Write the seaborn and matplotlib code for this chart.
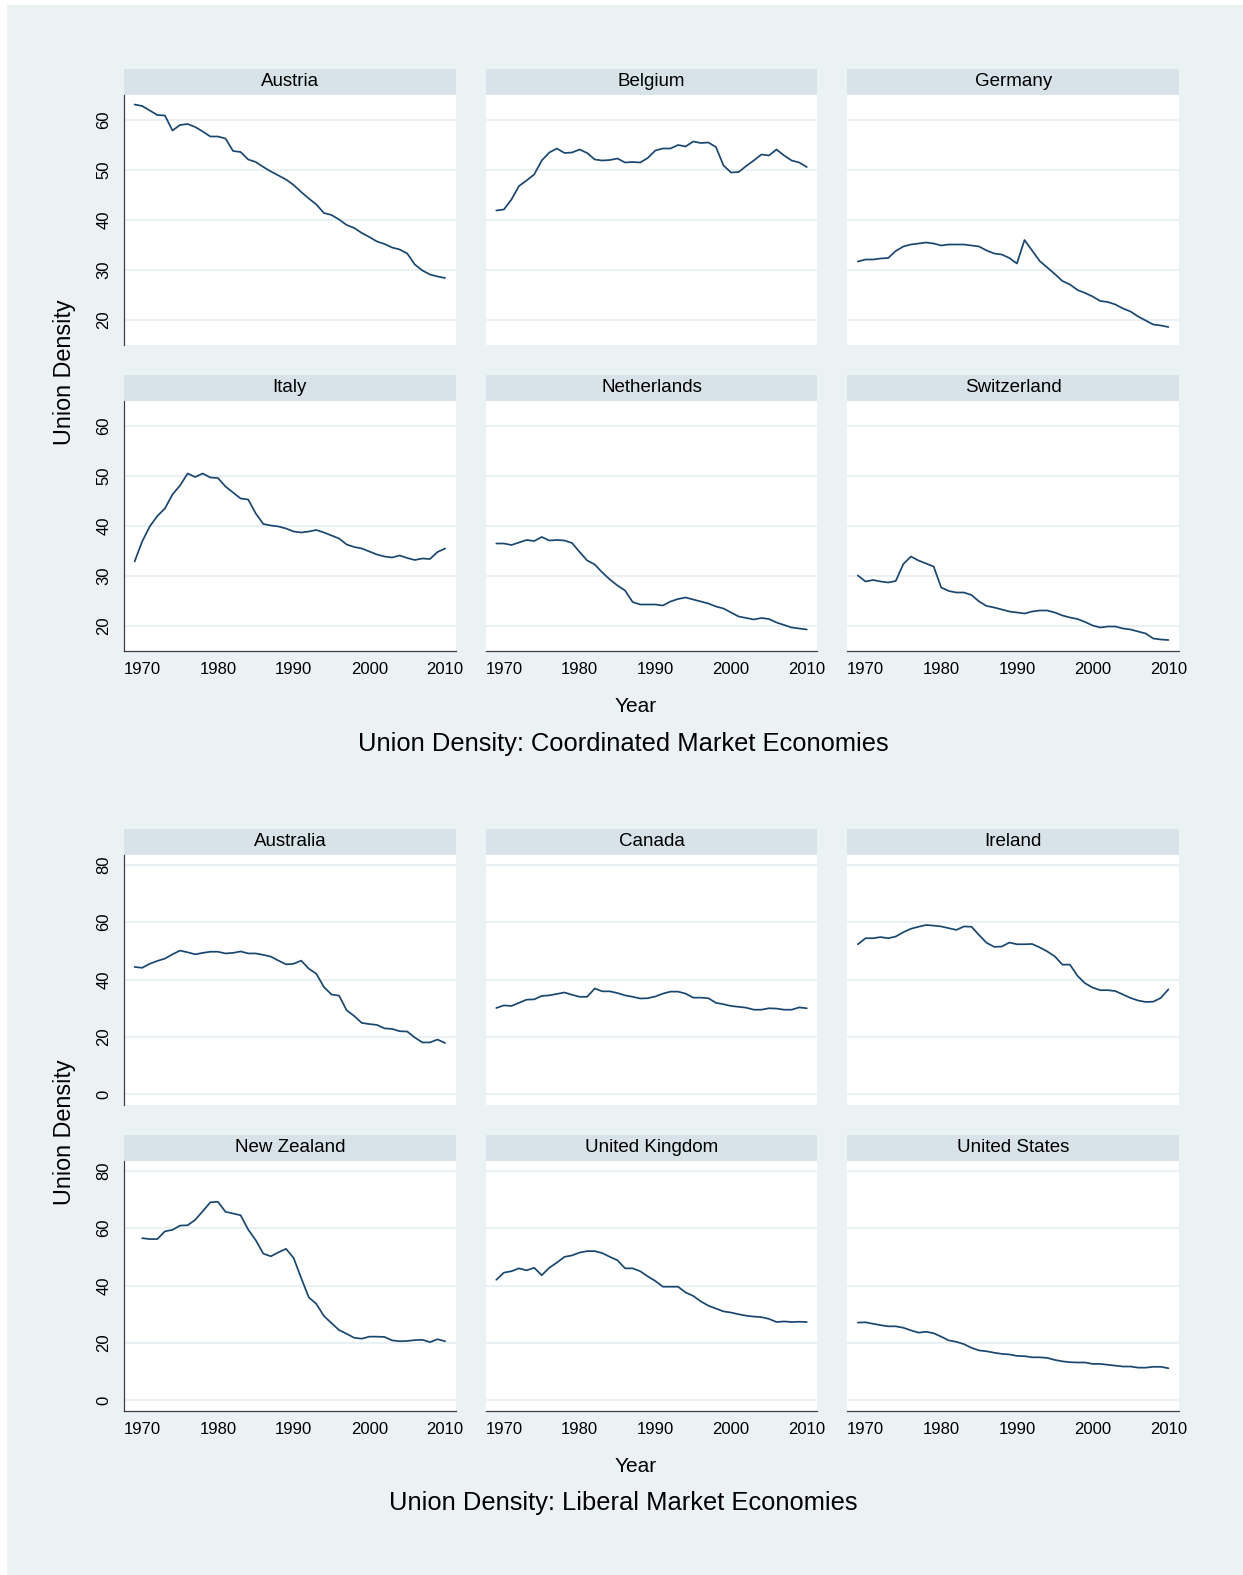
import matplotlib
matplotlib.use("Agg")
import matplotlib.pyplot as plt
import numpy as np
import pandas as pd
import seaborn as sns

# ---------------------------------------------------------------------------
# Union density (% of wage earners), 1969-2010
# ---------------------------------------------------------------------------
years = list(range(1969, 2011))
years_nz = list(range(1970, 2011))

austria = [63.1, 62.8, 61.9, 61.0, 60.9, 57.9, 59.0, 59.2, 58.6, 57.7, 56.7, 56.7, 56.3, 53.8,
           53.6, 52.1, 51.6, 50.6, 49.7, 48.9, 48.1, 47.0, 45.6, 44.3, 43.1, 41.4, 41.0, 40.1,
           39.0, 38.4, 37.4, 36.6, 35.7, 35.2, 34.5, 34.1, 33.3, 31.1, 29.9, 29.1, 28.7, 28.4]
belgium = [41.9, 42.1, 44.1, 46.8, 47.9, 49.1, 51.9, 53.5, 54.3, 53.4, 53.5, 54.1, 53.4, 52.1,
           51.9, 52.0, 52.3, 51.5, 51.6, 51.5, 52.4, 53.9, 54.3, 54.3, 55.0, 54.7, 55.7, 55.4,
           55.5, 54.6, 50.9, 49.5, 49.6, 50.8, 51.9, 53.1, 52.9, 54.1, 52.9, 51.9, 51.5, 50.6]
germany = [31.7, 32.1, 32.1, 32.3, 32.4, 33.8, 34.7, 35.1, 35.3, 35.5, 35.3, 34.9, 35.1, 35.1,
           35.1, 34.9, 34.7, 33.9, 33.3, 33.1, 32.4, 31.3, 36.0, 33.9, 31.8, 30.5, 29.2, 27.8,
           27.1, 26.0, 25.4, 24.7, 23.8, 23.6, 23.1, 22.3, 21.7, 20.7, 19.9, 19.1, 18.9, 18.6]
italy = [32.9, 36.9, 39.9, 42.0, 43.5, 46.3, 48.1, 50.5, 49.8, 50.5, 49.7, 49.6, 47.9, 46.7,
         45.5, 45.3, 42.5, 40.4, 40.1, 39.9, 39.5, 38.9, 38.7, 38.9, 39.2, 38.7, 38.1, 37.5,
         36.3, 35.8, 35.5, 34.9, 34.3, 33.9, 33.7, 34.1, 33.6, 33.2, 33.5, 33.4, 34.8, 35.5]
netherlands = [36.5, 36.5, 36.2, 36.7, 37.2, 37.0, 37.8, 37.1, 37.2, 37.1, 36.6, 34.8, 33.1, 32.3,
               30.7, 29.3, 28.1, 27.1, 24.8, 24.3, 24.3, 24.3, 24.1, 24.9, 25.4, 25.7, 25.3, 24.9,
               24.5, 23.9, 23.5, 22.7, 21.9, 21.6, 21.3, 21.6, 21.4, 20.7, 20.2, 19.7, 19.5, 19.3]
switzerland = [30.1, 28.9, 29.2, 28.9, 28.7, 29.0, 32.4, 33.9, 33.1, 32.5, 31.9, 27.7, 27.0, 26.7,
               26.7, 26.2, 24.9, 24.0, 23.7, 23.3, 22.9, 22.7, 22.5, 22.9, 23.1, 23.1, 22.7, 22.1,
               21.7, 21.4, 20.8, 20.1, 19.7, 19.9, 19.9, 19.5, 19.3, 18.9, 18.5, 17.5, 17.3, 17.2]

australia = [44.4, 44.1, 45.5, 46.5, 47.3, 48.8, 50.1, 49.5, 48.8, 49.3, 49.7, 49.7, 49.1, 49.3,
             49.8, 49.1, 49.1, 48.6, 48.0, 46.6, 45.3, 45.5, 46.6, 43.8, 42.0, 37.4, 34.8, 34.4,
             29.3, 27.3, 24.9, 24.5, 24.2, 23.0, 22.8, 22.0, 21.9, 19.8, 18.1, 18.1, 19.1, 17.9]
canada = [30.1, 31.0, 30.8, 31.9, 33.0, 33.1, 34.3, 34.5, 35.0, 35.5, 34.7, 34.0, 34.0, 36.9,
          35.9, 35.9, 35.3, 34.5, 34.0, 33.4, 33.5, 34.1, 35.1, 35.8, 35.8, 35.1, 33.7, 33.7,
          33.5, 31.9, 31.4, 30.8, 30.5, 30.2, 29.5, 29.5, 30.0, 29.9, 29.5, 29.5, 30.3, 30.0]
ireland = [52.3, 54.4, 54.4, 54.8, 54.4, 55.0, 56.5, 57.7, 58.4, 59.0, 58.8, 58.5, 57.9, 57.3,
           58.5, 58.4, 55.5, 52.8, 51.4, 51.5, 52.9, 52.3, 52.3, 52.4, 51.2, 49.8, 48.1, 45.2,
           45.2, 41.3, 38.7, 37.2, 36.3, 36.3, 36.0, 34.8, 33.6, 32.7, 32.2, 32.3, 33.6, 36.6]
new_zealand = [56.5, 56.2, 56.2, 58.9, 59.4, 60.9, 61.0, 62.9, 65.9, 69.0, 69.2, 65.7, 65.1,
               64.5, 59.5, 55.8, 51.1, 50.2, 51.6, 52.8, 49.6, 42.6, 35.9, 33.6, 29.4, 26.9,
               24.5, 23.2, 21.8, 21.5, 22.2, 22.2, 22.1, 20.9, 20.6, 20.7, 21.0, 21.1, 20.3,
               21.3, 20.6]
united_kingdom = [42.0, 44.5, 45.0, 46.0, 45.3, 46.2, 43.6, 46.2, 48.0, 50.0, 50.5, 51.5, 52.0,
                  52.0, 51.3, 50.0, 48.8, 46.0, 46.0, 45.0, 43.2, 41.6, 39.6, 39.6, 39.6, 37.6,
                  36.4, 34.5, 33.0, 32.0, 31.0, 30.6, 30.0, 29.5, 29.2, 29.0, 28.4, 27.3, 27.5,
                  27.3, 27.4, 27.3]
united_states = [27.1, 27.2, 26.7, 26.2, 25.8, 25.8, 25.3, 24.4, 23.6, 23.9, 23.4, 22.2, 20.9,
                 20.4, 19.6, 18.3, 17.4, 17.1, 16.6, 16.2, 16.0, 15.5, 15.4, 15.0, 15.0, 14.8,
                 14.1, 13.6, 13.3, 13.2, 13.2, 12.7, 12.7, 12.4, 12.1, 11.8, 11.8, 11.4, 11.4,
                 11.7, 11.7, 11.2]

cme_countries = ["Austria", "Belgium", "Germany", "Italy", "Netherlands", "Switzerland"]
lme_countries = ["Australia", "Canada", "Ireland", "New Zealand", "United Kingdom", "United States"]
cme_series = [austria, belgium, germany, italy, netherlands, switzerland]
lme_series = [australia, canada, ireland, new_zealand, united_kingdom, united_states]

year_ticks = [1970, 1980, 1990, 2000, 2010]
cme_yticks = [20, 30, 40, 50, 60]
lme_yticks = [0, 20, 40, 60, 80]

cme_title = "Union Density: Coordinated Market Economies"
lme_title = "Union Density: Liberal Market Economies"
y_title = "Union Density"
x_title = "Year"


def long_frame(countries, series):
    rows = []
    for name, vals in zip(countries, series):
        yrs = years_nz if len(vals) == len(years_nz) else years
        for yr, v in zip(yrs, vals):
            rows.append({"country": name, "year": yr, "density": v})
    return pd.DataFrame(rows)


cme_df = long_frame(cme_countries, cme_series)
lme_df = long_frame(lme_countries, lme_series)

# ---------------------------------------------------------------------------
# Style (Stata s2color look)
# ---------------------------------------------------------------------------
sns.set_theme(style="white")
plt.rcParams["font.family"] = ["Liberation Sans", "DejaVu Sans"]

BG = "#EAF2F3"
STRIP = "#D7E3E9"
GRID = "#E4EEF1"
NAVY = "#1A476F"
AXIS = "#404040"

W, H = 1243, 1575
fig = plt.figure(figsize=(W / 100, H / 100), dpi=100, facecolor="white")

# bluish-gray graph region
fig.patches.append(plt.Rectangle((7 / W, 0), (W - 7) / W, (H - 5) / H,
                                 transform=fig.transFigure, facecolor=BG,
                                 edgecolor="none", zorder=-10))

col_x = [124, 485.7, 847.3]
col_w = 331.7
strip_h = 26
plot_h = 250


def add_block(df, countries, row_tops, ylim, yticks):
    for i, name in enumerate(countries):
        r, c = divmod(i, 3)
        top = row_tops[r]
        x0 = col_x[c]
        # strip with the country name
        sax = fig.add_axes([x0 / W, 1 - (top + strip_h) / H, col_w / W, strip_h / H])
        sax.set_facecolor(STRIP)
        sax.set_xticks([])
        sax.set_yticks([])
        for s in sax.spines.values():
            s.set_visible(False)
        sax.text(0.5, 0.5, name, ha="center", va="center", fontsize=13.5,
                 color="black", transform=sax.transAxes)
        # plot region
        ax = fig.add_axes([x0 / W, 1 - (top + strip_h + plot_h) / H, col_w / W, plot_h / H])
        ax.set_facecolor("white")
        for yt in yticks:
            ax.axhline(yt, color=GRID, lw=1.1, zorder=0)
        sns.lineplot(data=df[df["country"] == name], x="year", y="density", ax=ax,
                     color=NAVY, linewidth=1.25, zorder=3)
        ax.set_xlim(1967.6, 2011.4)
        ax.set_ylim(*ylim)
        ax.set_xlabel("")
        ax.set_ylabel("")
        ax.set_xticks(year_ticks)
        ax.set_yticks(yticks)
        for s in ax.spines.values():
            s.set_visible(False)
        ax.tick_params(axis="both", direction="out", length=5, width=0.9, color=AXIS,
                       labelsize=12, labelcolor="black")
        if c == 0:
            ax.spines["left"].set_visible(True)
            ax.spines["left"].set_color(AXIS)
            ax.spines["left"].set_linewidth(0.9)
            ax.tick_params(axis="y", pad=4)
            for lab in ax.get_yticklabels():
                lab.set_rotation(90)
                lab.set_va("center")
        else:
            ax.tick_params(axis="y", left=False, labelleft=False)
        if r == 1:
            ax.spines["bottom"].set_visible(True)
            ax.spines["bottom"].set_color(AXIS)
            ax.spines["bottom"].set_linewidth(0.9)
            ax.tick_params(axis="x", pad=3)
        else:
            ax.tick_params(axis="x", bottom=False, labelbottom=False)


add_block(cme_df, cme_countries, [69, 375], (15.0, 65.0), cme_yticks)
add_block(lme_df, lme_countries, [829, 1135], (-3.7, 83.4), lme_yticks)

# axis titles and block titles
for yy, ty in [(372, 706), (1132, 1466)]:
    fig.text(65 / W, 1 - yy / H, y_title, rotation=90, ha="center", va="center",
             fontsize=16.8, color="black")
    fig.text(636 / W, 1 - ty / H, x_title, ha="center", va="center",
             fontsize=15, color="black")
for tty, title in [(744, cme_title), (1503, lme_title)]:
    fig.text(623 / W, 1 - tty / H, title, ha="center", va="center",
             fontsize=18.4, color="black")

fig.savefig("out.png", dpi=100, facecolor=fig.get_facecolor())
